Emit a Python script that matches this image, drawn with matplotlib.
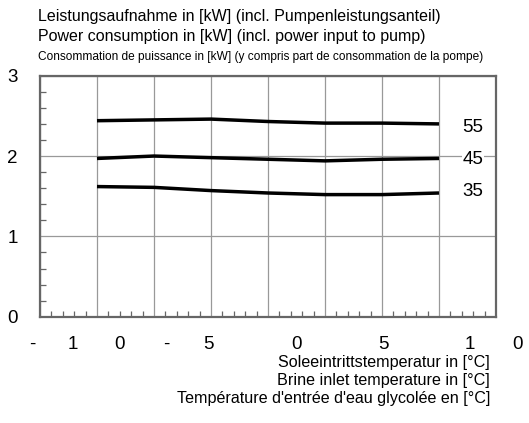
import matplotlib
matplotlib.use("Agg")
import matplotlib.pyplot as plt
from matplotlib.ticker import MultipleLocator, NullFormatter

plt.rcParams['font.family'] = ['Liberation Sans', 'DejaVu Sans']

# brine inlet temperature [°C]
temps = [-15, -10, -5, 0, 5, 10, 15]
# power consumption [kW] per flow temperature
p55 = [2.44, 2.45, 2.46, 2.43, 2.41, 2.41, 2.40]
p45 = [1.97, 2.00, 1.98, 1.96, 1.94, 1.96, 1.97]
p35 = [1.62, 1.61, 1.57, 1.54, 1.52, 1.52, 1.54]
curve_labels = ["55", "45", "35"]

# the x tick labels are printed as spread characters in the original
xchars = ["-", "1", "0", "-", "5", "0", "5", "1", "0"]
xchar_pos = [-20.7, -17.1, -13.0, -8.9, -5.2, 2.5, 10.1, 17.7, 21.9]
yticks = [0, 1, 2, 3]

title_lines = ["Leistungsaufnahme in [kW] (incl. Pumpenleistungsanteil)",
               "Power consumption in [kW] (incl. power input to pump)",
               "Consommation de puissance in [kW] (y compris part de consommation de la pompe)"]
xlabel_lines = ["Soleeintrittstemperatur in [°C]",
                "Brine inlet temperature in [°C]",
                "Température d'entrée d'eau glycolée en [°C]"]

fig = plt.figure(figsize=(5.29, 4.23), dpi=100)
ax = fig.add_axes([0.0756, 0.2513, 0.862, 0.5697])

label_shift = [-0.04, -0.01, 0.02]
for vals, lab, dy in zip([p55, p45, p35], curve_labels, label_shift):
    ax.plot(temps, vals, color='black', lw=2.5, solid_capstyle='butt')
    ax.text(18.0, vals[-1] + dy, lab, fontsize=13.5, ha='center', va='center',
            bbox=dict(facecolor='white', edgecolor='none', pad=0.5))

ax.set_xlim(-20, 20)
ax.set_ylim(0, 3)
ax.xaxis.set_major_locator(MultipleLocator(5))
ax.xaxis.set_minor_locator(MultipleLocator(1))
ax.yaxis.set_major_locator(MultipleLocator(1))
ax.yaxis.set_minor_locator(MultipleLocator(0.2))
ax.xaxis.set_major_formatter(NullFormatter())
ax.set_yticks(yticks)
ax.set_yticklabels([str(v) for v in yticks], fontsize=13.5)
ax.tick_params(axis='both', which='both', direction='in', color='#666666')
ax.tick_params(axis='both', which='major', length=0, pad=16)
ax.tick_params(axis='both', which='minor', length=4, width=0.9)
ax.tick_params(axis='x', which='minor', top=False)
ax.grid(True, which='major', color='#999999', lw=0.9)
ax.set_axisbelow(True)
for s in ax.spines.values():
    s.set_color('#666666')
    s.set_linewidth(1.6)

for ch, xp in zip(xchars, xchar_pos):
    ax.text(xp, -0.34, ch, fontsize=13.5, ha='center', va='center')

fig.text(38 / 529, 1 - 17 / 423, title_lines[0], fontsize=11.5, ha='left', va='center')
fig.text(38 / 529, 1 - 37 / 423, title_lines[1], fontsize=11.5, ha='left', va='center')
fig.text(38 / 529, 1 - 57 / 423, title_lines[2], fontsize=8.6, ha='left', va='center')

for i, line in enumerate(xlabel_lines):
    fig.text(490 / 529, 1 - (362 + 18 * i) / 423, line, fontsize=11.6, ha='right', va='center')

fig.savefig("out.png", dpi=100)
